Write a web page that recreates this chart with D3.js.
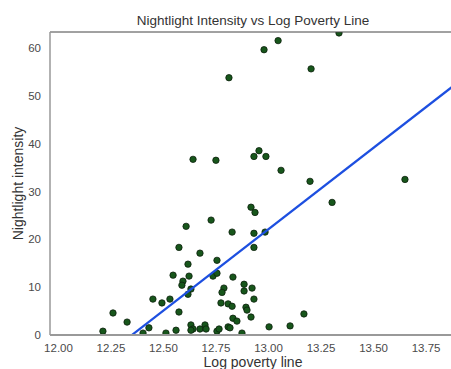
<!DOCTYPE html>
<html><head><meta charset="utf-8">
<script src="https://cdn.jsdelivr.net/npm/d3@7"></script>
<style>body{margin:0;background:#fff;} svg{display:block;}</style>
</head><body>
<svg id="c" width="451" height="369"></svg>
<script>
const logPoverty = [12.814,12.981,13.048,13.205,13.338,12.643,12.752,12.610,12.729,12.576,12.957,12.933,12.990,13.062,13.200,13.652,13.305,12.919,12.938,12.829,12.933,12.986,12.933,12.676,12.619,12.757,12.548,12.624,12.738,12.757,12.595,12.590,12.633,12.619,12.833,12.886,12.886,12.924,12.790,12.781,12.933,12.452,12.495,12.533,12.776,12.810,12.829,12.895,12.900,12.576,12.262,12.833,12.852,12.919,12.329,13.005,13.105,12.433,12.214,12.405,12.514,12.562,12.633,12.643,12.633,12.676,12.700,12.705,12.757,12.767,12.810,12.819,12.876,13.171];
const nightlight = [53.75,59.6,61.5,55.6,63.1,36.7,36.5,22.7,24.0,18.3,38.5,37.3,37.3,34.4,32.1,32.5,27.7,26.7,25.6,21.5,21.25,21.5,18.3,17.1,14.8,15.6,12.5,12.3,12.3,12.9,11.25,10.4,9.6,8.5,12.1,10.6,9.2,9.8,9.8,8.9,7.5,7.5,6.7,7.5,6.7,6.5,6.0,5.8,5.2,4.8,4.6,3.5,2.9,3.75,2.7,1.7,1.9,1.5,0.8,0.4,0.4,1.0,2.1,1.25,1.0,1.25,2.1,1.25,0.8,1.25,1.7,1.5,0.4,4.4];
const xTicks = [12.00,12.25,12.50,12.75,13.00,13.25,13.50,13.75];
const yTicks = [0,10,20,30,40,50,60];
const fitSlope = 34.0;
const fitIntercept = -419.97;
const xDomain = [11.962, 13.895];
const yDomain = [0, 63.3];

const svg = d3.select('#c');
const L = 50, R = 456, T = 32, B = 335;
const x = d3.scaleLinear().domain(xDomain).range([L, R]);
const y = d3.scaleLinear().domain(yDomain).range([B, T]);

svg.append('defs').append('clipPath').attr('id','clip')
  .append('rect').attr('x',L).attr('y',T).attr('width',R-L).attr('height',B-T);

const font = 'Liberation Sans, Arial, Helvetica, sans-serif';

const lineData = xDomain.map(v => [v, fitSlope*v + fitIntercept]);
const g = svg.append('g').attr('clip-path','url(#clip)');

g.selectAll('circle').data(logPoverty.map((v,i)=>[v,nightlight[i]])).enter()
  .append('circle')
  .attr('cx', d=>x(d[0])).attr('cy', d=>y(d[1])).attr('r', 3.2)
  .attr('fill', '#17561b').attr('stroke', '#0d1f0d').attr('stroke-width', 0.8);

g.append('path').datum(lineData)
  .attr('d', d3.line().x(d=>x(d[0])).y(d=>y(d[1])))
  .attr('fill','none').attr('stroke','#1d4fe0').attr('stroke-width',2.2);

svg.append('line').attr('x1',L).attr('x2',R).attr('y1',T).attr('y2',T).attr('stroke','#444').attr('stroke-width',1);
svg.append('line').attr('x1',L).attr('x2',L).attr('y1',T).attr('y2',B).attr('stroke','#999').attr('stroke-width',1.5);
svg.append('line').attr('x1',L).attr('x2',R).attr('y1',B).attr('y2',B).attr('stroke','#999').attr('stroke-width',2);

const xAxis = svg.append('g').attr('transform',`translate(0,${B})`)
  .call(d3.axisBottom(x).tickValues(xTicks).tickFormat(d3.format('.2f')).tickSize(0).tickPadding(9));
const yAxis = svg.append('g').attr('transform',`translate(${L},0)`)
  .call(d3.axisLeft(y).tickValues(yTicks).tickFormat(d3.format('d')).tickSize(0).tickPadding(9));
[xAxis,yAxis].forEach(a=>{
  a.select('.domain').remove();
  a.selectAll('text').attr('font-family',font).attr('font-size',11.5).attr('fill','#4a4a4a');
});

svg.append('text').attr('x',(L+R)/2).attr('y',25).attr('text-anchor','middle')
  .attr('font-family',font).attr('font-size',13.5).attr('fill','#333')
  .text('Nightlight Intensity vs Log Poverty Line');
svg.append('text').attr('x',(L+R)/2).attr('y',367).attr('text-anchor','middle')
  .attr('font-family',font).attr('font-size',14).attr('fill','#333')
  .text('Log poverty line');
svg.append('text').attr('transform',`translate(23,${(T+B)/2}) rotate(-90)`).attr('text-anchor','middle')
  .attr('font-family',font).attr('font-size',14).attr('fill','#333')
  .text('Nightlight intensity');
</script>
</body></html>
